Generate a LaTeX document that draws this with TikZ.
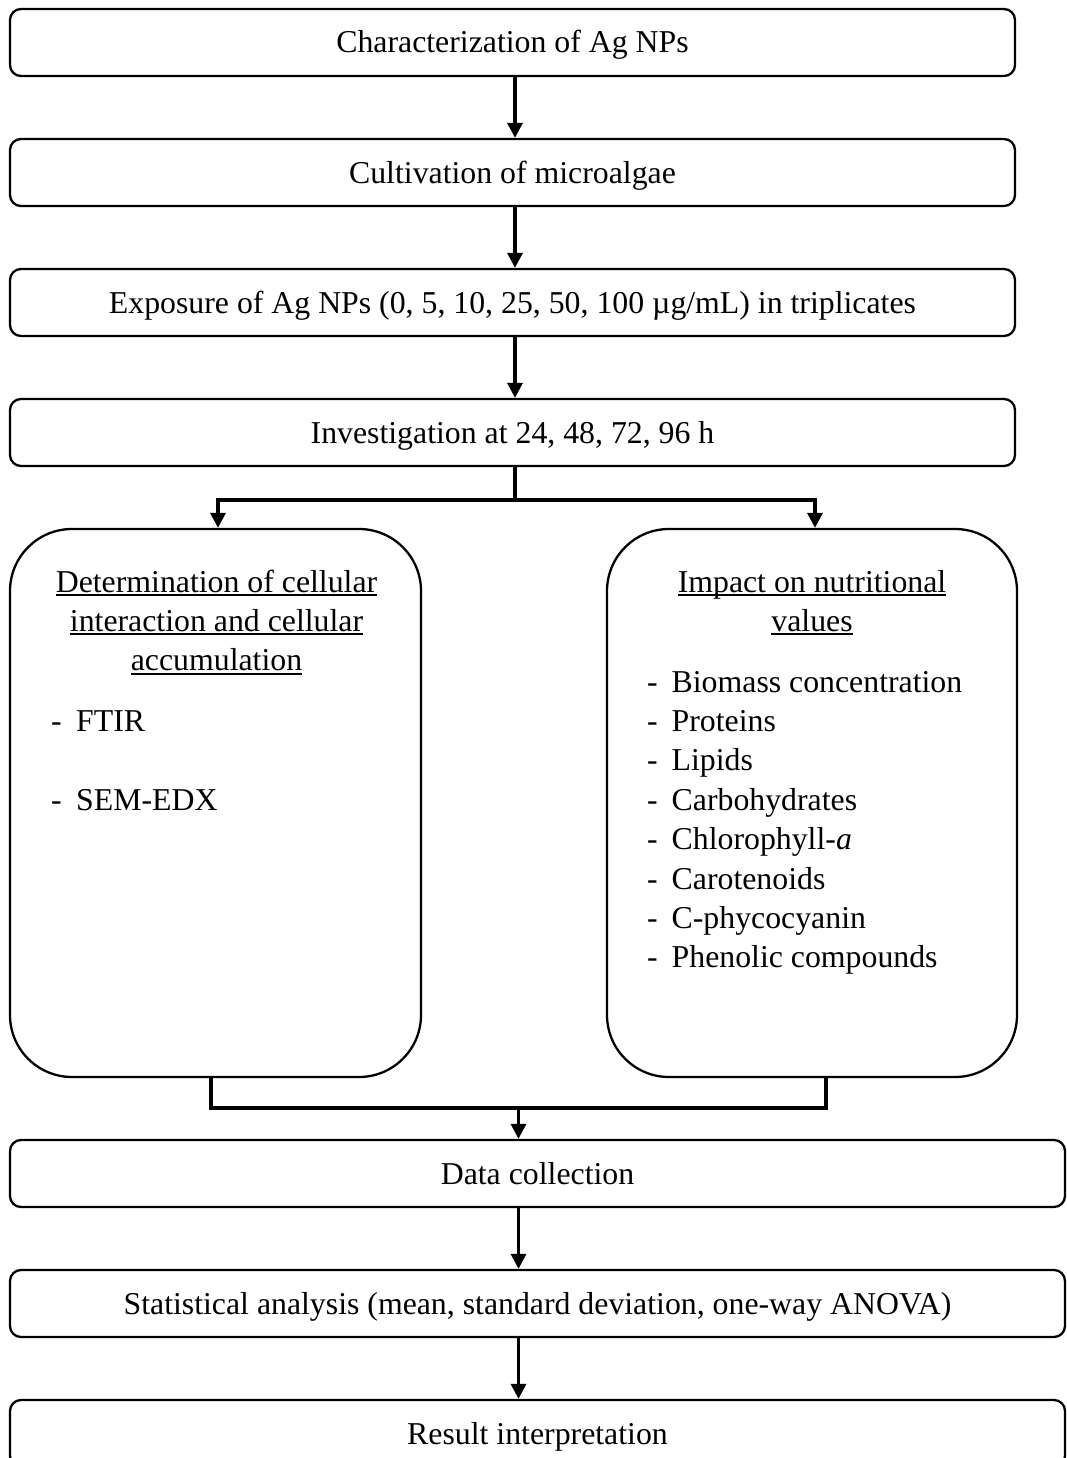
\documentclass[tikz,border=0pt]{standalone}
\usepackage{fontspec}
\setmainfont{Liberation Serif}
\usetikzlibrary{arrows.meta}
\newcommand\ulx[1]{\setbox0\hbox{#1}\rlap{\rule[-4pt]{\wd0}{2.2pt}}\box0}
\begin{document}
\begin{tikzpicture}[x=1pt,y=-1pt, font=\fontsize{31.8}{39.4}\selectfont,
 box/.style={draw, line width=2.3pt, rounded corners=11pt, minimum height=67pt, inner sep=0pt, text height=21pt, text depth=0pt},
 bigbox/.style={draw, line width=2.3pt, rounded corners=62pt, minimum height=548pt, inner sep=0pt},
 txt/.style={anchor=base, inner sep=0pt},
 item/.style={anchor=base west, inner sep=0pt},
 conn/.style={line width=3.3pt},
 arr/.style={conn, -{Triangle[width=15pt,length=15pt]}}]
\useasboundingbox (0,0) rectangle (1067,1458);

% top boxes
\node[box, minimum width=1005pt] (b1) at (512.5,42.5) {Characterization of Ag NPs};
\node[box, minimum width=1005pt] (b2) at (512.5,172.5) {Cultivation of microalgae};
\node[box, minimum width=1005pt] (b3) at (512.5,302.5) {Exposure of Ag NPs (0, 5, 10, 25, 50, 100 µg/mL) in triplicates};
\node[box, minimum width=1005pt] (b4) at (512.5,432.5) {Investigation at 24, 48, 72, 96 h};

% big boxes
\node[bigbox, minimum width=411pt] (L) at (215.5,803) {};
\node[bigbox, minimum width=410pt] (R) at (812,803) {};

% left box text
\node[txt] (lt1) at (216.5,592) {\ulx{Determination of cellular}};
\node[txt] (lt2) at (216.5,631.4) {\ulx{interaction and cellular}};
\node[txt] (lt3) at (216.5,670.8) {\ulx{accumulation}};
\node[item] (li1) at (51,731.4) {\makebox[25pt][l]{-}FTIR};
\node[item] (li2) at (51,810.2) {\makebox[25pt][l]{-}SEM-EDX};

% right box text
\node[txt] (rt1) at (812,592) {\ulx{Impact on nutritional}};
\node[txt] (rt2) at (812,631.4) {\ulx{values}};
\node[item] (ri1) at (647,692) {\makebox[24.5pt][l]{-}Biomass concentration};
\node[item] (ri2) at (647,731.4) {\makebox[24.5pt][l]{-}Proteins};
\node[item] (ri3) at (647,770.8) {\makebox[24.5pt][l]{-}Lipids};
\node[item] (ri4) at (647,810.2) {\makebox[24.5pt][l]{-}Carbohydrates};
\node[item] (ri5) at (647,849.6) {\makebox[24.5pt][l]{-}Chlorophyll-\textit{a}};
\node[item] (ri6) at (647,889) {\makebox[24.5pt][l]{-}Carotenoids};
\node[item] (ri7) at (647,928.4) {\makebox[24.5pt][l]{-}C-phycocyanin};
\node[item] (ri8) at (647,967.8) {\makebox[24.5pt][l]{-}Phenolic compounds};

% bottom boxes
\node[box, minimum width=1055pt] (d) at (537.5,1173.5) {Data collection};
\node[box, minimum width=1055pt] (s) at (537.5,1303.5) {Statistical analysis (mean, standard deviation, one-way ANOVA)};
\node[box, minimum width=1055pt] (r) at (537.5,1433.5) {Result interpretation};

% connectors
\draw[arr] ([xshift=2.5pt]b1.south) -- ([xshift=2.5pt]b2.north);
\draw[arr] ([xshift=2.5pt]b2.south) -- ([xshift=2.5pt]b3.north);
\draw[arr] ([xshift=2.5pt]b3.south) -- ([xshift=2.5pt]b4.north);

\coordinate (sp) at (515,500);
\draw[conn] ([xshift=2.5pt]b4.south) -- (sp);
\draw[arr] (sp) -| ([xshift=2.5pt]L.north);
\draw[arr] (sp) -| ([xshift=3pt]R.north);

\coordinate (mg) at (518.5,1108);
\draw[conn] ([xshift=-4.5pt]L.south) -- ([xshift=-4.5pt]L.south |- mg) -| ([xshift=14pt]R.south);
\draw[arr] (mg) -- (d.north -| mg);
\draw[arr] (d.south -| mg) -- (s.north -| mg);
\draw[arr] (s.south -| mg) -- (r.north -| mg);
\end{tikzpicture}
\end{document}
